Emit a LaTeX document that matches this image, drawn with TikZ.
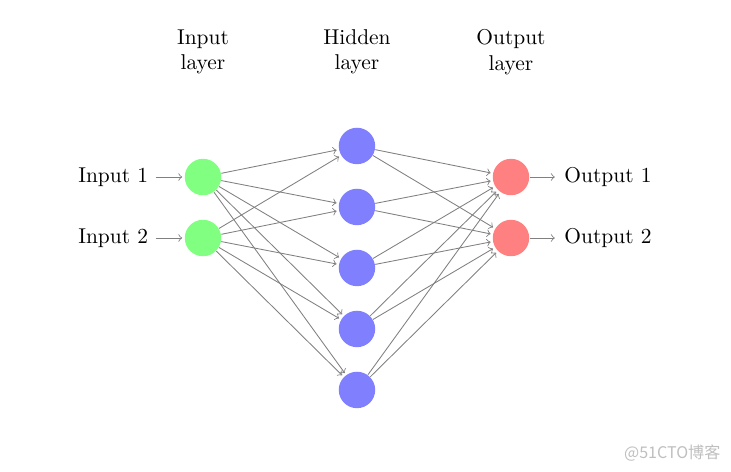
\documentclass[tikz,border=0pt]{standalone}
\usepackage{fontspec}
\newfontfamily\cjk{Noto Sans CJK SC}
\usetikzlibrary{arrows}

\tikzset{
    neuron/.style = {circle, minimum size = 17pt, inner sep = 0pt},
    inneuron/.style = {neuron, fill = green!50},
    hidneuron/.style = {neuron, fill = blue!50},
    outneuron/.style = {neuron, fill = red!50},
    link/.style = {->, draw = black!50, shorten >= 1pt}
}

\begin{document}
\begin{tikzpicture}
    \useasboundingbox (0,0) rectangle (11.984,-7.738);

    % layer titles
    \node [align = center] (tin) at (3.328, -0.85) {Input\\layer};
    \node [align = center] (thid) at (5.852, -0.85) {Hidden\\layer};
    \node [align = center] (tout) at (8.377, -0.85) {Output\\layer};

    % input layer
    \node [inneuron] (I-1) at (3.328, -2.902) {};
    \node [inneuron] (I-2) at (3.328, -3.902) {};
    \node [left] (in1) at (2.55, -2.902) {Input 1};
    \node [left] (in2) at (2.55, -3.902) {Input 2};
    \draw [link] (in1) -- (I-1);
    \draw [link] (in2) -- (I-2);

    % hidden layer
    \node [hidneuron] (H-1) at (5.852, -2.393) {};
    \node [hidneuron] (H-2) at (5.852, -3.393) {};
    \node [hidneuron] (H-3) at (5.852, -4.393) {};
    \node [hidneuron] (H-4) at (5.852, -5.393) {};
    \node [hidneuron] (H-5) at (5.852, -6.393) {};

    % output layer
    \node [outneuron] (O-1) at (8.377, -2.902) {};
    \node [outneuron] (O-2) at (8.377, -3.902) {};
    \node [right] (out1) at (9.13, -2.902) {Output 1};
    \node [right] (out2) at (9.13, -3.902) {Output 2};
    \draw [link] (O-1) -- (out1);
    \draw [link] (O-2) -- (out2);

    % every input to every hidden, every hidden to every output
    \foreach \i in {1,2}
        \foreach \h in {1,...,5}
            \draw [link] (I-\i) -- (H-\h);
    \foreach \h in {1,...,5}
        \foreach \o in {1,2}
            \draw [link] (H-\h) -- (O-\o);

    % watermark
    \node [text = black!25, font = \cjk\fontsize{7.5}{9}\selectfont] (wm) at (11.02, -7.42) {@51CTO博客};
\end{tikzpicture}
\end{document}
